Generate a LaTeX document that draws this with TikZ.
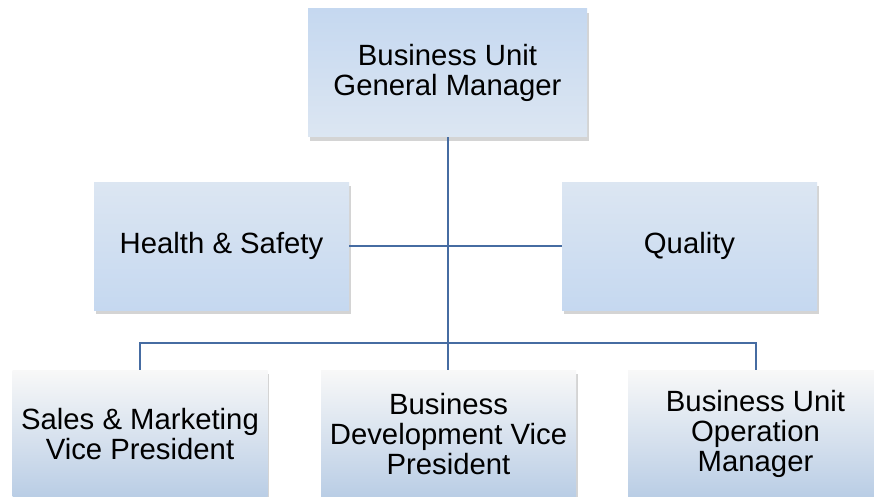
\documentclass[tikz,border=0pt]{standalone}
\usepackage{fontspec}
\setmainfont{Liberation Sans}
\usetikzlibrary{shadows}
\definecolor{linec}{RGB}{70,108,162}
\definecolor{blueA}{RGB}{197,216,240}
\definecolor{blueB}{RGB}{220,230,242}
\definecolor{blueC}{RGB}{185,205,229}
\definecolor{whiteA}{RGB}{248,248,248}
\tikzset{
  box/.style={rectangle, minimum width=255pt, minimum height=128pt, inner sep=4pt,
    align=center, font=\fontsize{29.3}{30}\selectfont,
    drop shadow={shadow xshift=1.5pt, shadow yshift=-4pt, opacity=0.28, fill=black!60}},
  topbox/.style={box, top color=blueA, bottom color=blueB},
  midbox/.style={box, top color=blueB, bottom color=blueA},
  lowbox/.style={box, top color=whiteA, bottom color=blueC},
  conn/.style={draw=linec, line width=2pt}
}
\begin{document}
\begin{tikzpicture}[x=1pt,y=-1pt]
\useasboundingbox (0,0) rectangle (874,497);
\clip (0,0) rectangle (874,497);
\fill[white] (0,0) rectangle (874,497);
\coordinate (bus) at (448,343);
\node[topbox, minimum width=279pt] (gm) at (447.5,73) {Business Unit\\General Manager};
\node[midbox] (hs) at (221.5,246) {Health \& Safety};
\node[midbox] (q) at (689.5,246) {Quality};
\node[lowbox] (sm) at (140,434) {Sales \& Marketing\\Vice President};
\node[lowbox] (bd) at (448.5,434) {Business\\Development Vice\\President};
\node[lowbox] (ou) at (755.5,434) {Business Unit\\Operation\\Manager};
\draw[conn] (gm.south) -- (gm.south |- bd.north);
\draw[conn] (hs.east) -- (q.west);
\draw[conn] (sm.north) |- (bus) -| (ou.north);
\end{tikzpicture}
\end{document}
